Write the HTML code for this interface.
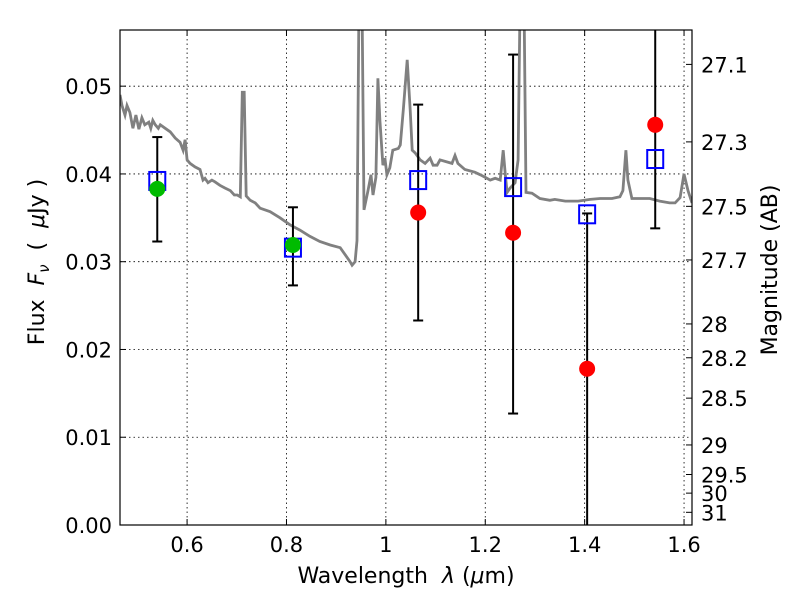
<!DOCTYPE html>
<html><head><meta charset="utf-8"><style>body{margin:0;background:#fff}svg text{font-family:"DejaVu Sans","Liberation Sans",sans-serif}</style></head>
<body>
<svg id="c" width="800" height="600" xmlns="http://www.w3.org/2000/svg"></svg>
<script>
const specWave=[0.465,0.469,0.475,0.479,0.485,0.491,0.497,0.503,0.509,0.515,0.523,0.527,0.531,0.536,0.542,0.546,0.556,0.566,0.576,0.586,0.592,0.596,0.600,0.606,0.616,0.626,0.632,0.636,0.642,0.650,0.656,0.666,0.676,0.687,0.695,0.701,0.707,0.711,0.715,0.719,0.727,0.737,0.747,0.767,0.787,0.807,0.827,0.847,0.867,0.888,0.908,0.928,0.932,0.938,0.942,0.946,0.952,0.956,0.964,0.970,0.974,0.980,0.984,0.988,0.994,0.998,1.002,1.008,1.014,1.025,1.029,1.035,1.043,1.049,1.053,1.059,1.069,1.079,1.089,1.095,1.103,1.109,1.133,1.139,1.145,1.159,1.179,1.190,1.200,1.210,1.220,1.230,1.236,1.240,1.244,1.250,1.260,1.266,1.270,1.278,1.282,1.294,1.310,1.330,1.340,1.361,1.387,1.411,1.431,1.455,1.471,1.477,1.483,1.487,1.495,1.531,1.551,1.571,1.582,1.592,1.600,1.608,1.616];
const specFlux=[0.0490,0.0478,0.0467,0.0478,0.0470,0.0452,0.0467,0.0451,0.0464,0.0456,0.0459,0.0452,0.0461,0.0456,0.0452,0.0456,0.0452,0.0448,0.0441,0.0436,0.0427,0.0439,0.0416,0.0412,0.0408,0.0405,0.0393,0.0395,0.0390,0.0393,0.0391,0.0387,0.0384,0.0381,0.0376,0.0376,0.0374,0.0493,0.0493,0.0375,0.0370,0.0367,0.0361,0.0357,0.0350,0.0342,0.0336,0.0329,0.0323,0.0319,0.0316,0.0300,0.0296,0.0300,0.0324,0.0600,0.0600,0.0359,0.0381,0.0399,0.0376,0.0396,0.0509,0.0461,0.0410,0.0418,0.0399,0.0407,0.0427,0.0429,0.0433,0.0473,0.0530,0.0473,0.0427,0.0424,0.0416,0.0412,0.0418,0.0410,0.0410,0.0416,0.0412,0.0421,0.0412,0.0405,0.0402,0.0399,0.0396,0.0393,0.0395,0.0393,0.0427,0.0402,0.0379,0.0384,0.0390,0.0416,0.0600,0.0600,0.0379,0.0378,0.0372,0.0370,0.0371,0.0369,0.0369,0.0371,0.0372,0.0372,0.0374,0.0381,0.0427,0.0393,0.0372,0.0372,0.0369,0.0367,0.0367,0.0373,0.0400,0.0381,0.0367];
const bandWave=[0.540,0.813,1.065,1.256,1.405,1.542];
const modelFlux=[0.0392,0.0316,0.0393,0.0385,0.0354,0.0417];
const obsWave=[0.540,0.813,1.065,1.256,1.405,1.542];
const obsFlux=[0.0383,0.0319,0.0356,0.0333,0.0178,0.0456];
const obsDetected=[1,1,0,0,0,0];
const errLow=[0.0323,0.0273,0.0233,0.0127,-0.002,0.0338];
const errHigh=[0.0442,0.0362,0.0479,0.0536,0.0355,0.0620];
const xTicks=[0.6,0.8,1.0,1.2,1.4,1.6];
const xTickLabels=["0.6","0.8","1","1.2","1.4","1.6"];
const yTicks=[0,0.01,0.02,0.03,0.04,0.05];
const yTickLabels=["0.00","0.01","0.02","0.03","0.04","0.05"];
const magTicks=[27.1,27.3,27.5,27.7,28,28.2,28.5,29,29.5,30,31];

const L=120,R=692,T=30,B=525,xmin=0.465,xmax=1.616,ymin=0,ymax=0.0564;
const X=v=>L+(v-xmin)/(xmax-xmin)*(R-L);
const Y=v=>B-(v-ymin)/(ymax-ymin)*(B-T);
const svg=document.getElementById('c');
const NS='http://www.w3.org/2000/svg';
function mk(tag,attrs,parent){const e=document.createElementNS(NS,tag);for(const k in attrs)e.setAttribute(k,attrs[k]);(parent||svg).appendChild(e);return e;}

const defs=mk('defs',{});
const cp=mk('clipPath',{id:'clip'},defs);mk('rect',{x:L,y:T,width:R-L,height:B-T},cp);

xTicks.forEach(t=>{const g=mk('line',{x1:X(t),x2:X(t),y1:T,y2:B,stroke:'#000','stroke-width':0.8,'stroke-dasharray':'1.5,3'});

});
yTicks.forEach(t=>{const g=mk('line',{x1:L,x2:R,y1:Y(t),y2:Y(t),stroke:'#000','stroke-width':0.8,'stroke-dasharray':'1.5,3'});

});

const pts=specWave.map((w,i)=>X(w).toFixed(1)+','+Y(specFlux[i]).toFixed(1)).join(' ');
const sp=mk('polyline',{points:pts,fill:'none',stroke:'#808080','stroke-width':2.8,'clip-path':'url(#clip)'});



obsWave.forEach((w,i)=>{
 const g=mk('g',{'clip-path':'url(#clip)'});
 
 
 const x=X(w);
 mk('line',{x1:x,x2:x,y1:Y(errLow[i]),y2:Y(errHigh[i]),stroke:'#000','stroke-width':2},g);
 mk('line',{x1:x-5,x2:x+5,y1:Y(errLow[i]),y2:Y(errLow[i]),stroke:'#000','stroke-width':2},g);
 mk('line',{x1:x-5,x2:x+5,y1:Y(errHigh[i]),y2:Y(errHigh[i]),stroke:'#000','stroke-width':2},g);
});
bandWave.forEach((w,i)=>{const r=mk('rect',{x:X(w)-8,y:Y(modelFlux[i])-9,width:16,height:18,fill:'none',stroke:'#0000ff','stroke-width':2});

});
obsWave.forEach((w,i)=>{const c=mk('circle',{cx:X(w),cy:Y(obsFlux[i]),r:8,fill:obsDetected[i]?'#00bb00':'#ff0000'});

});

const fr=mk('rect',{x:L,y:T,width:R-L,height:B-T,fill:'none',stroke:'#000','stroke-width':1.2});



xTicks.forEach((t,i)=>{const x=X(t);
 mk('line',{x1:x,x2:x,y1:B,y2:B-6,stroke:'#000'});mk('line',{x1:x,x2:x,y1:T,y2:T+6,stroke:'#000'});
 const tx=mk('text',{x:x,y:B+27,'font-size':21,'text-anchor':'middle'});tx.textContent=xTickLabels[i];
 
 });
yTicks.forEach((t,i)=>{const y=Y(t);
 mk('line',{x1:L,x2:L+6,y1:y,y2:y,stroke:'#000'});
 const tx=mk('text',{x:L-8,y:y+8,'font-size':21,'text-anchor':'end'});tx.textContent=yTickLabels[i];
 
 });
magTicks.forEach(m=>{const f=Math.pow(10,(23.9-m)/2.5);const y=Y(f);
 mk('line',{x1:R,x2:R-6,y1:y,y2:y,stroke:'#000'});
 const tx=mk('text',{x:R+9,y:y+8,'font-size':21});tx.textContent=String(m);
 
 });
</script>
<svg width="800" height="600" style="position:absolute;left:0;top:0;pointer-events:none" xmlns="http://www.w3.org/2000/svg">
<text x="406" y="583" font-size="22" text-anchor="middle" font-family="DejaVu Sans, sans-serif">Wavelength&#160;&#160;<tspan font-style="italic">λ</tspan> (<tspan font-style="italic">μ</tspan>m)</text>
<text transform="translate(44,262) rotate(-90)" font-size="22" text-anchor="middle" font-family="DejaVu Sans, sans-serif">Flux&#160;&#160;<tspan font-style="italic">F</tspan><tspan font-style="italic" font-size="15" dy="5">ν</tspan><tspan dy="-5">&#160;&#160;(&#160;&#160;</tspan><tspan font-style="italic">μ</tspan>Jy )</text>
<text transform="translate(777,270) rotate(-90)" font-size="22" text-anchor="middle" font-family="DejaVu Sans, sans-serif">Magnitude (AB)</text>
</svg>
</body></html>
